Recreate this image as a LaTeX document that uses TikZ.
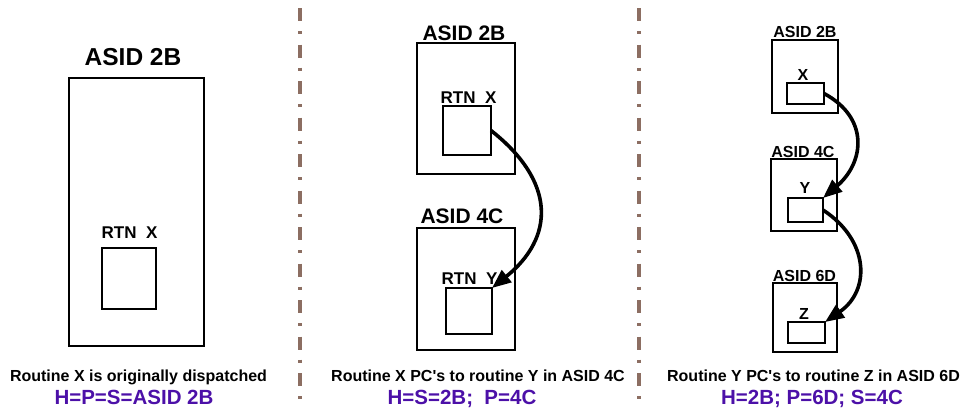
\documentclass[tikz,border=0pt]{standalone}
\usepackage{fontspec}
\setmainfont{Liberation Sans}[Ligatures=TeXOff]
\usetikzlibrary{arrows.meta}
\definecolor{divbrown}{RGB}{140,110,98}
\definecolor{hpurple}{RGB}{76,16,168}
\begin{document}
\begin{tikzpicture}[x=1pt,y=-1pt,
  box/.style={draw=black, line width=2pt, inner sep=0pt, outer sep=0pt, rectangle},
  lbl/.style={anchor=base, inner sep=0pt, font=\bfseries\fontsize{#1}{#1}\selectfont},
  hlbl/.style={lbl=#1, text=hpurple},
  divider/.style={draw=divbrown, line width=3.5pt, dash pattern=on 13pt off 10pt on 3pt off 10.5pt},
  arr/.style={line width=3.6pt, -{Triangle[length=19pt,width=15pt]}}
]
\useasboundingbox (0,0) rectangle (962,408);

% dividers
\coordinate (d1t) at (300,8);
\coordinate (d1b) at (300,401);
\coordinate (d2t) at (639,8);
\coordinate (d2b) at (639,401);
\draw[divider] (d1t) -- (d1b);
\draw[divider] (d2t) -- (d2b);

% ---------- panel 1 ----------
\node[lbl=24.5] (p1t) at (133,65) {ASID 2B};
\node[box, minimum width=135pt, minimum height=268pt] (p1o) at (136.5,212) {};
\node[lbl=17] (p1r) at (129.5,238) {RTN\ \ X};
\node[box, minimum width=54pt, minimum height=61pt] (p1x) at (129,278.5) {};
\node[lbl=16] (p1c) at (138.5,381) {Routine X is originally dispatched};
\node[hlbl=20.5] (p1h) at (134,404) {H=P=S=ASID 2B};

% ---------- panel 2 ----------
\node[lbl=21] (p2t1) at (464,40) {ASID 2B};
\node[box, minimum width=98pt, minimum height=131pt] (p2o1) at (466,108.5) {};
\node[lbl=17] (p2rx) at (468.5,103) {RTN\ \ X};
\node[box, minimum width=48pt, minimum height=49pt] (p2x) at (467,130.5) {};
\node[lbl=21] (p2t2) at (462,223) {ASID 4C};
\node[box, minimum width=98pt, minimum height=122pt] (p2o2) at (466,289) {};
\node[lbl=17] (p2ry) at (469.5,284) {RTN\ \ Y};
\node[box, minimum width=46pt, minimum height=46pt] (p2y) at (469,311) {};
\node[lbl=16] (p2c) at (478,381) {Routine X PC's to routine Y in ASID 4C};
\node[hlbl=20.5] (p2h) at (462,404) {H=S=2B;\ \ P=4C};
\draw[arr] (p2x.east) .. controls +(66,52) and +(62,-50) .. (p2y.north east);

% ---------- panel 3 ----------
\node[lbl=16] (p3t1) at (805,37) {ASID 2B};
\node[box, minimum width=66pt, minimum height=73pt] (p3o1) at (805,76.5) {};
\node[lbl=16] (p3lx) at (803,80) {X};
\node[box, minimum width=37pt, minimum height=21pt] (p3x) at (805.5,93.5) {};
\node[lbl=16] (p3t2) at (803,157) {ASID 4C};
\node[box, minimum width=66pt, minimum height=72pt] (p3o2) at (804,195) {};
\node[lbl=16] (p3ly) at (805,193) {Y};
\node[box, minimum width=35pt, minimum height=24pt] (p3y) at (805.5,210) {};
\node[lbl=16] (p3t3) at (804.5,281) {ASID 6D};
\node[box, minimum width=64pt, minimum height=69pt] (p3o3) at (805,317.5) {};
\node[lbl=16] (p3lz) at (804,319) {Z};
\node[box, minimum width=37pt, minimum height=21pt] (p3z) at (806.5,332.5) {};
\node[lbl=16] (p3c) at (813.5,381) {Routine Y PC's to routine Z in ASID 6D};
\node[hlbl=20.5] (p3h) at (812,404) {H=2B; P=6D; S=4C};
\draw[arr] (p3x.east) .. controls +(45,24) and +(42,-36) .. (p3y.north east);
\draw[arr] (p3y.east) .. controls +(46,30) and +(46,-32) .. (p3z.north east);
\end{tikzpicture}
\end{document}
